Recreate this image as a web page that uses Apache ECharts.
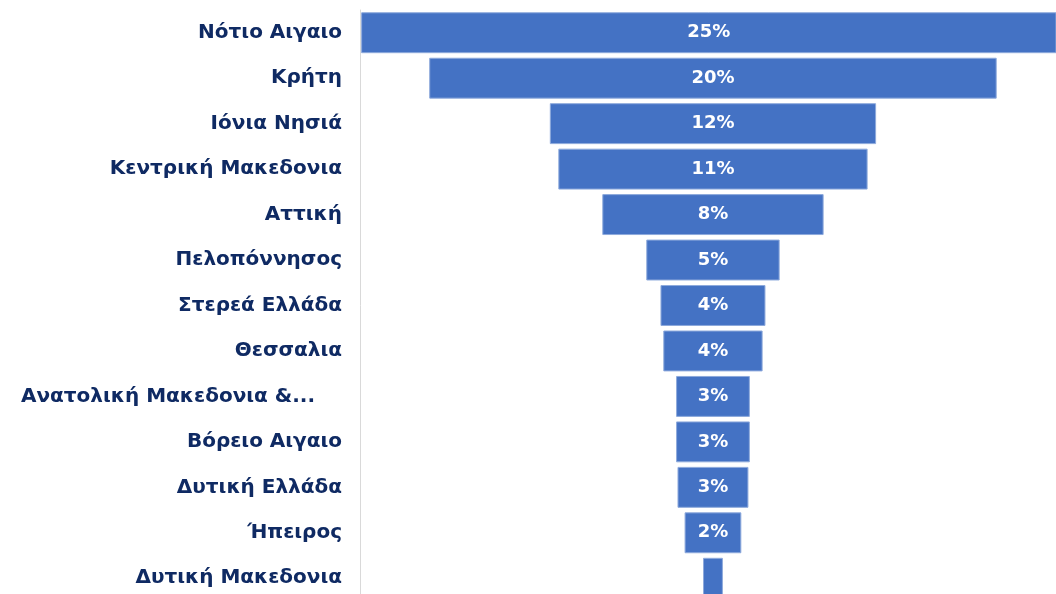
<!DOCTYPE html>
<html>
<head>
<meta charset="utf-8">
<script src="https://cdn.jsdelivr.net/npm/echarts@6/dist/echarts.min.js"></script>
<style>
html,body{margin:0;padding:0;background:#fff;overflow:hidden;}
#chart{width:1056px;height:601px;}
</style>
</head>
<body>
<div id="chart"></div>
<script>
// Data
var categories = ["Νότιο Αιγαιο","Κρήτη","Ιόνια Νησιά","Κεντρική Μακεδονια","Αττική","Πελοπόννησος","Στερεά Ελλάδα","Θεσσαλια","Ανατολική Μακεδονια &...","Βόρειο Αιγαιο","Δυτική Ελλάδα","Ήπειρος","Δυτική Μακεδονια"];
var shares = [24.8, 20.0, 11.5, 10.9, 7.8, 4.7, 3.7, 3.5, 2.6, 2.6, 2.5, 2.0, 0.7];

var CENTER = 12.44;   // funnel centre on the value axis
var AXIS_MAX = 24.53;

var offsets = shares.map(function(v){ return CENTER - v / 2; });

var LABEL_FONT = { color: '#0f2a63', fontFamily: 'DejaVu Sans', fontWeight: 'bold', fontSize: 20 };

var chart = echarts.init(document.getElementById('chart'));
chart.setOption({
  animation: false,
  grid: { left: 360, right: 0, top: 10, bottom: 0, containLabel: false },
  xAxis: { type: 'value', min: 0, max: AXIS_MAX, show: false },
  yAxis: {
    type: 'category', data: categories, inverse: true,
    axisLine: { show: true, lineStyle: { color: '#d9d9d9', width: 1 } },
    axisTick: { show: false },
    splitLine: { show: false },
    axisLabel: Object.assign({
      margin: 18,
      formatter: function(v){
        if (v.indexOf('...') >= 0) return '{t|' + v + '}';
        return v;
      },
      rich: { t: Object.assign({ padding: [0, 27, 0, 0] }, LABEL_FONT) }
    }, LABEL_FONT)
  },
  series: [
    {
      type: 'bar', stack: 'f', data: offsets, silent: true,
      itemStyle: { color: 'transparent' }, barCategoryGap: '10%'
    },
    {
      type: 'bar', stack: 'f', data: shares, barCategoryGap: '10%',
      itemStyle: { color: '#4472c4', borderColor: '#8eaadc', borderWidth: 1 },
      label: {
        show: true, position: 'inside', color: '#ffffff',
        fontFamily: 'DejaVu Sans', fontWeight: 'bold', fontSize: 18,
        formatter: function(p){ return p.value >= 1.5 ? Math.round(p.value) + '%' : ''; }
      }
    }
  ]
});
</script>
</body>
</html>
